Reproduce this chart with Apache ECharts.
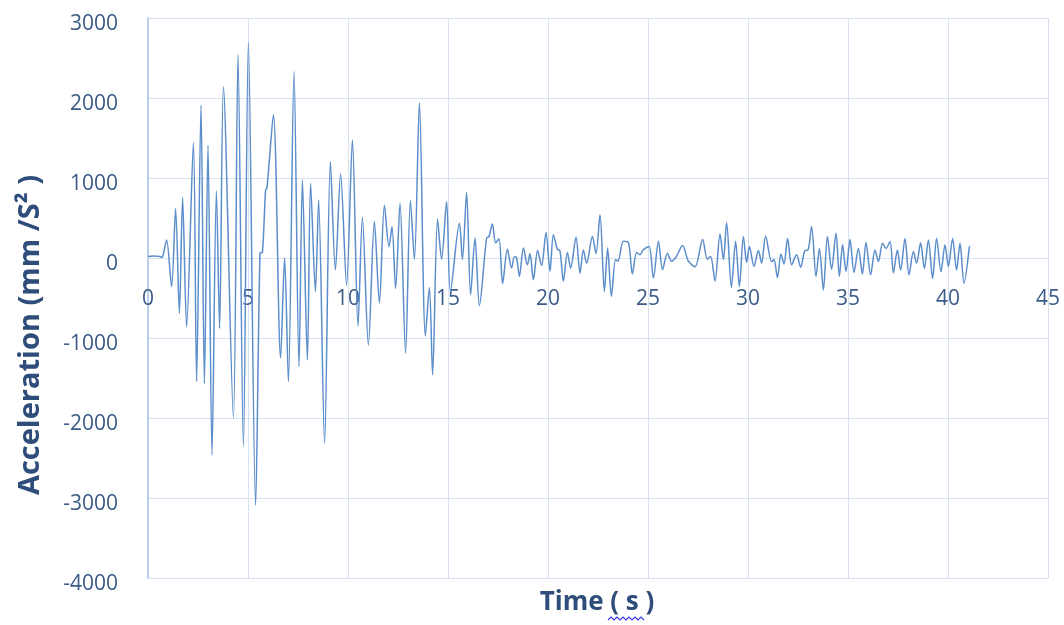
<!DOCTYPE html>
<html>
<head>
<meta charset="utf-8">
<script src="https://cdn.jsdelivr.net/npm/echarts@6/dist/echarts.min.js"></script>
<style>html,body{margin:0;padding:0;background:#fff}#c{width:1064px;height:625px}</style>
</head>
<body>
<div id="c"></div>
<script>
const timeS = [0,0.3,0.6,0.7,0.8,0.93,1.18,1.38,1.57,1.73,1.93,2.27,2.43,2.65,2.82,3.0,3.2,3.42,3.58,3.77,4.27,4.5,4.77,5.02,5.38,5.6,5.72,5.88,5.95,6.27,6.63,6.83,7.02,7.3,7.55,7.72,7.97,8.13,8.37,8.53,8.83,9.12,9.37,9.63,9.93,10.22,10.5,10.72,11.02,11.32,11.57,11.82,12.05,12.2,12.38,12.6,12.88,13.12,13.32,13.57,13.87,14.07,14.23,14.48,14.68,14.93,15.12,15.57,15.72,15.93,16.13,16.35,16.57,16.93,17.05,17.22,17.38,17.55,17.73,17.97,18.18,18.32,18.42,18.57,18.77,18.97,19.1,19.27,19.48,19.68,19.9,20.1,20.27,20.47,20.6,20.77,20.97,21.13,21.4,21.6,21.77,21.93,22.22,22.4,22.6,22.82,22.98,23.17,23.38,23.5,23.77,24.02,24.22,24.43,24.6,24.75,25.05,25.27,25.52,25.73,25.97,26.18,26.4,26.73,27.02,27.35,27.73,27.97,28.13,28.35,28.6,28.77,28.93,29.17,29.38,29.57,29.77,29.93,30.07,30.3,30.52,30.68,30.88,31.18,31.3,31.47,31.65,31.8,31.98,32.18,32.43,32.63,32.85,33.0,33.18,33.4,33.57,33.77,33.97,34.18,34.4,34.57,34.73,34.9,35.1,35.3,35.52,35.72,35.9,36.13,36.35,36.52,36.73,36.9,37.1,37.27,37.47,37.63,37.85,38.05,38.27,38.43,38.63,38.82,39.02,39.23,39.43,39.65,39.85,40.02,40.23,40.43,40.6,40.8,41.07];
const accel = [20,25,20,5,90,225,-358,620,-690,755,-860,1440,-1545,1910,-1570,1410,-2460,840,-880,2140,-2000,2540,-2360,2700,-3090,60,70,850,880,1790,-1250,0,-1545,2330,-1360,975,-1275,935,-420,725,-2315,1205,-150,1050,-340,1475,-850,510,-1090,455,-565,660,140,390,-380,685,-1190,715,-15,1940,-975,-370,-1460,485,-15,705,-420,435,-20,820,-460,250,-595,250,270,425,190,240,-320,110,-125,15,10,-230,125,-85,55,-270,95,-95,320,-165,290,110,90,-290,70,-125,260,-190,100,-65,270,55,540,-420,125,-480,-20,-40,210,195,-200,70,40,100,145,-250,210,-145,60,-40,12,155,-40,-110,230,-15,20,-290,300,-20,440,-365,210,-355,270,-55,145,-105,95,-65,275,-45,-20,-245,50,-75,245,-85,40,-115,95,100,395,-230,120,-400,270,-140,310,-230,165,-170,230,-180,120,-200,195,-210,100,-45,185,120,205,-185,100,-150,245,-210,80,-65,190,-130,225,-255,245,-170,165,-105,245,-150,185,-315,145];
const xTicks = {min:0, max:45, interval:5};
const yTicks = {min:-4000, max:3000, interval:1000};
const xTitle = 'Time ( s )';
const yTitle = 'Acceleration (mm /S\u00B2 )';

const points = timeS.map((t,i)=>[t, accel[i]]);
const labelColor = '#3b5a86';
const titleColor = '#2f4d7a';
const gridColor = '#d6e2f2';
const gridTop = 18, gridBottom = 47, chartH = 625;
const plotH = chartH - gridTop - gridBottom;
const zeroOffset = -plotH * (0 - yTicks.min) / (yTicks.max - yTicks.min);
const chart = echarts.init(document.getElementById('c'));
chart.setOption({
  animation:false,
  grid:{left:148, right:16, top:gridTop, bottom:gridBottom, containLabel:false, outerBoundsMode:'none'},
  xAxis:{type:'value', min:xTicks.min, max:xTicks.max, interval:xTicks.interval,
    position:'bottom', offset:zeroOffset,
    axisLine:{show:true, onZero:false, lineStyle:{color:gridColor, width:1}},
    axisTick:{show:false},
    axisLabel:{color:labelColor, fontSize:21, fontFamily:'Open Sans', margin:31},
    splitLine:{show:true, lineStyle:{color:gridColor, width:1}}},
  yAxis:{type:'value', min:yTicks.min, max:yTicks.max, interval:yTicks.interval,
    axisLine:{show:true, lineStyle:{color:'#a9c3e6', width:1.5}},
    axisTick:{show:false},
    axisLabel:{color:labelColor, fontSize:21, fontFamily:'Open Sans', margin:30,
      verticalAlign:'top', lineHeight:12, formatter:v=>String(v)},
    splitLine:{show:true, lineStyle:{color:gridColor, width:1}}},
  graphic:[
    {type:'text', x:597, y:603, style:{text:xTitle, font:'bold 26px "Open Sans"', fill:titleColor, textAlign:'center', textVerticalAlign:'middle'}},
    {type:'polyline', shape:{points:[[608,620],[611,617],[614,620],[617,617],[620,620],[623,617],[626,620],[629,617],[632,620],[635,617],[638,620],[641,617],[644,620]]}, style:{stroke:'#3a3af0', lineWidth:1.2, fill:null}},
    {type:'text', x:31, y:335, rotation:Math.PI/2, style:{text:yTitle, font:'bold 29px "Open Sans"', fill:titleColor, textAlign:'center', textVerticalAlign:'middle'}}
  ],
  series:[{type:'line', data:points, showSymbol:false, smooth:0.3,
    lineStyle:{color:'#5b8dcb', width:1.5}}]
});
</script>
</body>
</html>
